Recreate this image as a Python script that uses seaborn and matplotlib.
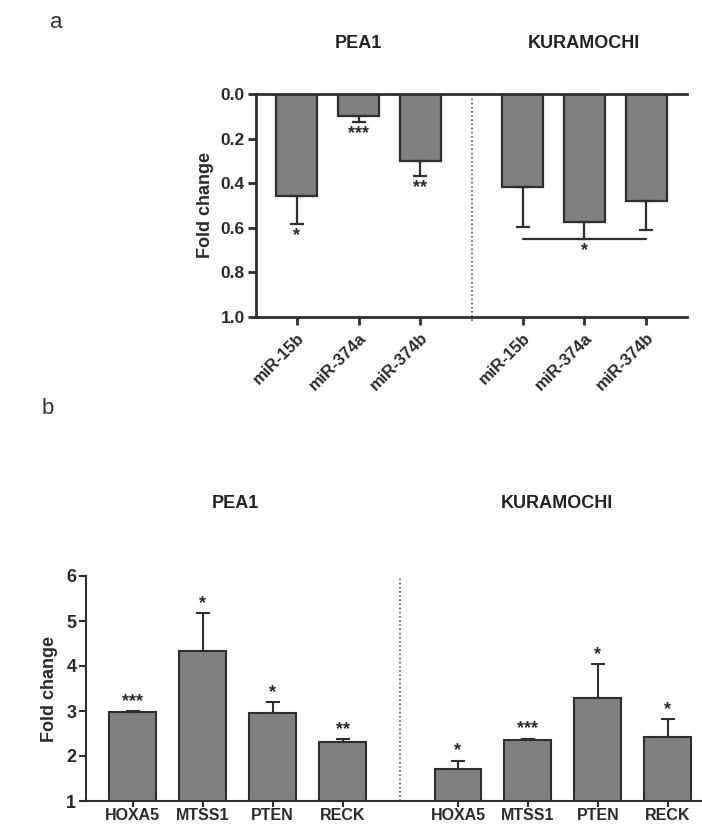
import numpy as np
import pandas as pd
import matplotlib
matplotlib.use("Agg")
import matplotlib.pyplot as plt
import seaborn as sns

sns.set_theme(style="white")
plt.rcParams["font.family"] = ["Liberation Sans", "DejaVu Sans"]

# ---------------- data ----------------
mir_labels = ["miR-15b", "miR-374a", "miR-374b"]
mir_pea1 = [0.457, 0.100, 0.302]
mir_pea1_err = [0.126, 0.027, 0.067]
mir_pea1_sig = ["*", "***", "**"]
mir_kura = [0.416, 0.575, 0.481]
mir_kura_err = [0.182, 0.075, 0.130]
mir_kura_group_sig = "*"

gene_labels = ["HOXA5", "MTSS1", "PTEN", "RECK"]
gene_pea1 = [2.97, 4.33, 2.96, 2.32]
gene_pea1_err = [0.02, 0.84, 0.24, 0.05]
gene_pea1_sig = ["***", "*", "*", "**"]
gene_kura = [1.71, 2.35, 3.30, 2.43]
gene_kura_err = [0.18, 0.03, 0.74, 0.39]
gene_kura_sig = ["*", "***", "*", "*"]

cell_lines = ["PEA1", "KURAMOCHI"]

BAR = "#808080"
EDGE = "#2e2e2e"
TXT = "#2a2a2a"
GAP = 1.65

fig = plt.figure(figsize=(7.02, 8.26), dpi=100)

def style_axes(ax, lw, length):
    for s in ax.spines.values():
        s.set_color(EDGE)
        s.set_linewidth(lw)
    ax.tick_params(axis="both", which="both", direction="out", length=length,
                   width=lw, color=EDGE, bottom=True, left=True, labelcolor=TXT)

# ---------------- panel a ----------------
axa = fig.add_axes([256 / 702, 1 - 317 / 826, (687 - 256) / 702, (317 - 94) / 826])
n = len(mir_labels)
pos_a = list(np.arange(n)) + list(np.arange(n) + (n - 1) + GAP)
vals_a = mir_pea1 + mir_kura
errs_a = mir_pea1_err + mir_kura_err
df_a = pd.DataFrame({"pos": pos_a, "val": vals_a})
sns.barplot(data=df_a, x="pos", y="val", native_scale=True, width=0.66,
            color=BAR, edgecolor=EDGE, linewidth=1.6, saturation=1,
            errorbar=None, ax=axa)
axa.errorbar(pos_a, vals_a, yerr=[np.zeros(len(errs_a)), errs_a], fmt="none",
             ecolor=EDGE, elinewidth=1.6, capsize=5, capthick=1.6)
axa.set_ylim(1.0, 0.0)
axa.set_xlim(-0.66, pos_a[-1] + 0.66)
axa.set_yticks([0.0, 0.2, 0.4, 0.6, 0.8, 1.0])
axa.set_yticklabels([f"{v:.1f}" for v in [0.0, 0.2, 0.4, 0.6, 0.8, 1.0]],
                    fontweight="bold", fontsize=12.5)
axa.set_xticks(pos_a)
axa.set_xticklabels(mir_labels + mir_labels, rotation=45, ha="right",
                    rotation_mode="anchor", fontweight="bold", fontsize=12)
axa.set_xlabel("")
axa.set_ylabel("Fold change", fontweight="bold", fontsize=13, labelpad=5, color=TXT)
style_axes(axa, 2, 6)
axa.tick_params(axis="y", pad=2)
axa.spines["right"].set_visible(False)
axa.axvline(n - 1 + GAP / 2, ymin=-0.02, ymax=1, color="#555555",
            linestyle=(0, (1, 1.5)), linewidth=1.2, clip_on=False)
for p, v, e, s in zip(pos_a[:n], mir_pea1, mir_pea1_err, mir_pea1_sig):
    axa.annotate(s, (p, v + e), xytext=(0, -2), textcoords="offset points",
                 ha="center", va="top", fontsize=13, fontweight="bold", color=TXT)
lvl = max(v + e for v, e in zip(mir_kura, mir_kura_err))
axa.plot([pos_a[n], pos_a[-1]], [lvl, lvl], color=EDGE, linewidth=1.6)
axa.annotate(mir_kura_group_sig, ((pos_a[n] + pos_a[-1]) / 2, lvl), xytext=(0, -2),
             textcoords="offset points", ha="center", va="top", fontsize=13,
             fontweight="bold", color=TXT)

fig.text(56 / 702, 1 - 22 / 826, "a", fontsize=16, ha="center", va="center",
         color="#333333")
fig.text(358 / 702, 1 - 43 / 826, cell_lines[0], fontsize=13, fontweight="bold",
         ha="center", va="center", color="#222222")
fig.text(584 / 702, 1 - 43 / 826, cell_lines[1], fontsize=13, fontweight="bold",
         ha="center", va="center", color="#222222")

# ---------------- panel b ----------------
axb = fig.add_axes([86 / 702, 1 - 801 / 826, (702 - 86) / 702, (801 - 576) / 826])
m = len(gene_labels)
pos_b = list(np.arange(m)) + list(np.arange(m) + (m - 1) + GAP)
vals_b = gene_pea1 + gene_kura
errs_b = gene_pea1_err + gene_kura_err
sigs_b = gene_pea1_sig + gene_kura_sig
df_b = pd.DataFrame({"pos": pos_b, "val": vals_b})
sns.barplot(data=df_b, x="pos", y="val", native_scale=True, width=0.67,
            color=BAR, edgecolor=EDGE, linewidth=1.5, saturation=1,
            errorbar=None, ax=axb)
axb.errorbar(pos_b, vals_b, yerr=[np.zeros(len(errs_b)), errs_b], fmt="none",
             ecolor=EDGE, elinewidth=1.5, capsize=5, capthick=1.5)
axb.set_ylim(1, 6)
axb.set_xlim(-0.67, pos_b[-1] + 0.49)
axb.set_yticks([1, 2, 3, 4, 5, 6])
axb.set_yticklabels(["1", "2", "3", "4", "5", "6"], fontweight="bold", fontsize=13)
axb.set_xticks(pos_b)
axb.set_xticklabels(gene_labels + gene_labels, fontweight="bold", fontsize=11.5)
axb.set_xlabel("")
axb.set_ylabel("Fold change", fontweight="bold", fontsize=13, labelpad=6, color=TXT)
style_axes(axb, 1.5, 5)
axb.tick_params(axis="y", pad=2)
axb.tick_params(axis="x", pad=1, length=4)
axb.spines["right"].set_visible(False)
axb.spines["top"].set_visible(False)
axb.axvline(m - 1 + GAP / 2, ymin=0, ymax=1, color="#555555",
            linestyle=(0, (1, 1.5)), linewidth=1.2)
for p, v, e, s in zip(pos_b, vals_b, errs_b, sigs_b):
    axb.annotate(s, (p, v + e), xytext=(0, 1), textcoords="offset points",
                 ha="center", va="bottom", fontsize=13, fontweight="bold", color=TXT)

fig.text(48 / 702, 1 - 408 / 826, "b", fontsize=16, ha="center", va="center",
         color="#333333")
fig.text(235 / 702, 1 - 503 / 826, cell_lines[0], fontsize=13, fontweight="bold",
         ha="center", va="center", color="#222222")
fig.text(557 / 702, 1 - 503 / 826, cell_lines[1], fontsize=13, fontweight="bold",
         ha="center", va="center", color="#222222")

fig.savefig("out.png", dpi=100, facecolor="white")
